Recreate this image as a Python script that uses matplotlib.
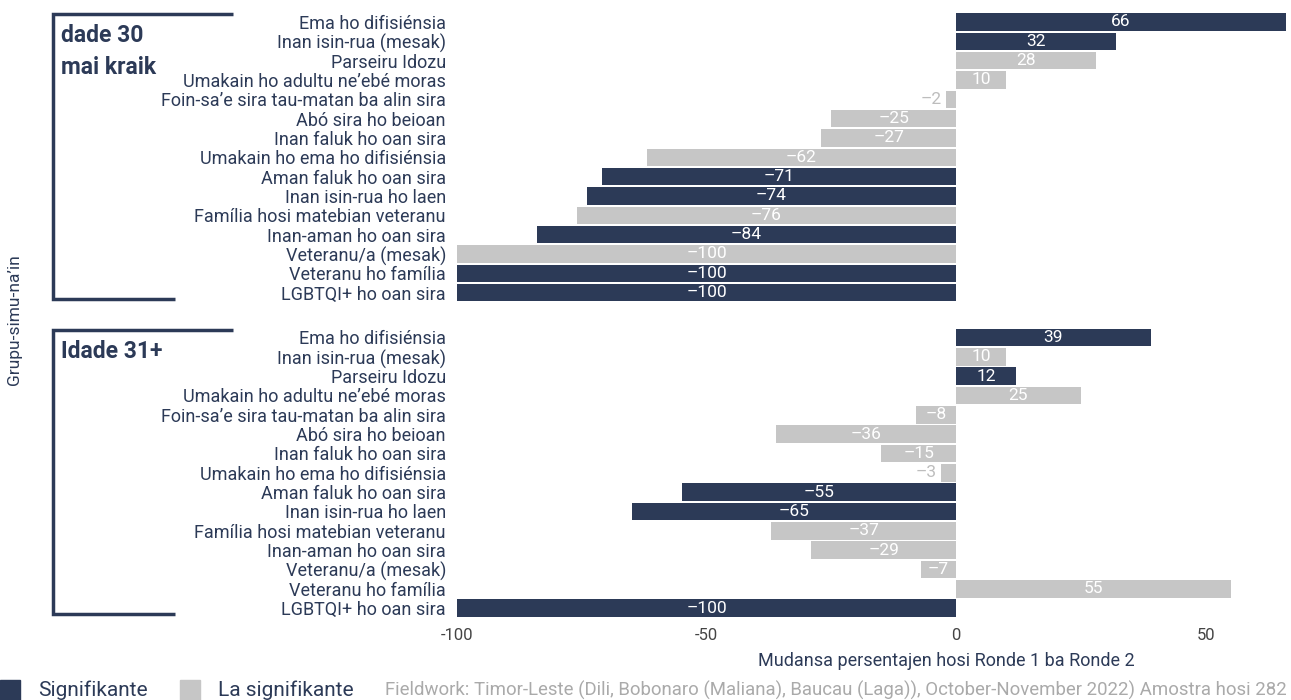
import matplotlib.pyplot as plt
import numpy as np

# [1] Data
CATEGORIES = [
    "Ema ho difisiénsia",
    "Inan isin-rua (mesak)",
    "Parseiru Idozu",
    "Umakain ho adultu ne’ebé moras",
    "Foin-sa’e sira tau-matan ba alin sira",
    "Abó sira ho beioan",
    "Inan faluk ho oan sira",
    "Umakain ho ema ho difisiénsia",
    "Aman faluk ho oan sira",
    "Inan isin-rua ho laen",
    "Família hosi matebian veteranu",
    "Inan-aman ho oan sira",
    "Veteranu/a (mesak)",
    "Veteranu ho família",
    "LGBTQI+ ho oan sira",
]

GROUPS = ["dade 30\nmai kraik", "Idade 31+"]

YOUNG_VALUES = [66, 32, 28, 10, -2, -25, -27, -62, -71, -74, -76, -84, -100, -100, -100]
YOUNG_SIG = [1, 1, 0, 0, 0, 0, 0, 0, 1, 1, 0, 1, 0, 1, 1]

OLD_VALUES = [39, 10, 12, 25, -8, -36, -15, -3, -55, -65, -37, -29, -7, 55, -100]
OLD_SIG = [1, 0, 1, 0, 0, 0, 0, 0, 1, 1, 0, 0, 0, 0, 1]

X_TICKS = [-100, -50, 0, 50]

# [2] Style
NAVY = "#2c3a57"
GREY = "#c6c6c6"
TEXT = "#2c3a57"
FONT = "Roboto"
GAP = 2.32

plt.rcParams["font.family"] = [FONT, "DejaVu Sans"]

fig = plt.figure(figsize=(12.91, 7.0), dpi=100)
ax = fig.add_axes([457 / 1291, 1 - 617.8 / 700, 1 - 457 / 1291, (617.8 - 12.3) / 700])

n = len(CATEGORIES)
y_young = np.arange(n)
y_old = np.arange(n) + n - 1 + GAP

positions = np.concatenate([y_young, y_old])
values = np.array(YOUNG_VALUES + OLD_VALUES)
sig = np.array(YOUNG_SIG + OLD_SIG)
colors = [NAVY if s else GREY for s in sig]

bars = ax.barh(positions, values, height=0.9, color=colors)

for bar, v in zip(bars, values):
    width_px = abs(v) * 4.99
    yc = bar.get_y() + bar.get_height() / 2
    label = f"{v}".replace("-", "–")
    if width_px < 22:
        ax.text(v - 0.8 if v < 0 else v + 0.8, yc, label, ha="right" if v < 0 else "left",
                va="center", color="#bdbdbd", fontsize=12.5)
    else:
        ax.text(v / 2, yc, label, ha="center", va="center", color="white", fontsize=12.5)

ax.set_xlim(-100, 67.1)
ax.set_ylim(y_old[-1] + 0.5, -0.5)
ax.set_yticks(positions)
ax.set_yticklabels(CATEGORIES + CATEGORIES, fontsize=13, color=TEXT)
ax.set_xticks(X_TICKS)
ax.set_xticklabels([str(t) for t in X_TICKS], fontsize=12, color="#444444")
ax.tick_params(axis="both", length=0)
ax.tick_params(axis="y", pad=8)
ax.tick_params(axis="x", pad=7)
for spine in ax.spines.values():
    spine.set_visible(False)

# [3] Overlay in pixel coordinates for brackets, legend and notes
ov = fig.add_axes([0, 0, 1, 1], facecolor="none")
ov.set_xlim(0, 1291)
ov.set_ylim(700, 0)
ov.axis("off")

for top, bottom, name in [(14, 299, GROUPS[0]), (330, 614, GROUPS[1])]:
    ov.plot([233, 53, 53, 175], [top, top, bottom, bottom], color=NAVY, lw=2.5,
            solid_capstyle="butt", solid_joinstyle="miter")
    ov.text(61, top + 10, name, ha="left", va="top", fontsize=16.5, fontweight="bold",
            color=TEXT, linespacing=1.5)

ov.text(15, 320, "Grupu-simu-na’in", rotation=90, ha="center", va="center",
        fontsize=12.5, color=TEXT)
ov.text(946, 661, "Mudansa persentajen hosi Ronde 1 ba Ronde 2", ha="center",
        va="center", fontsize=13, color=TEXT)

ov.add_patch(plt.Rectangle((0, 680), 20, 20, color=NAVY))
ov.text(38, 690, "Signifikante", ha="left", va="center", fontsize=15, color=TEXT)
ov.add_patch(plt.Rectangle((180, 680), 20, 20, color=GREY))
ov.text(218, 690, "La signifikante", ha="left", va="center", fontsize=15, color=TEXT)
ov.text(1287, 690,
        "Fieldwork: Timor-Leste (Dili, Bobonaro (Maliana), Baucau (Laga)), "
        "October-November 2022) Amostra hosi 282",
        ha="right", va="center", fontsize=13.4, color="#aaaaaa")

fig.savefig("out.png", dpi=100)
